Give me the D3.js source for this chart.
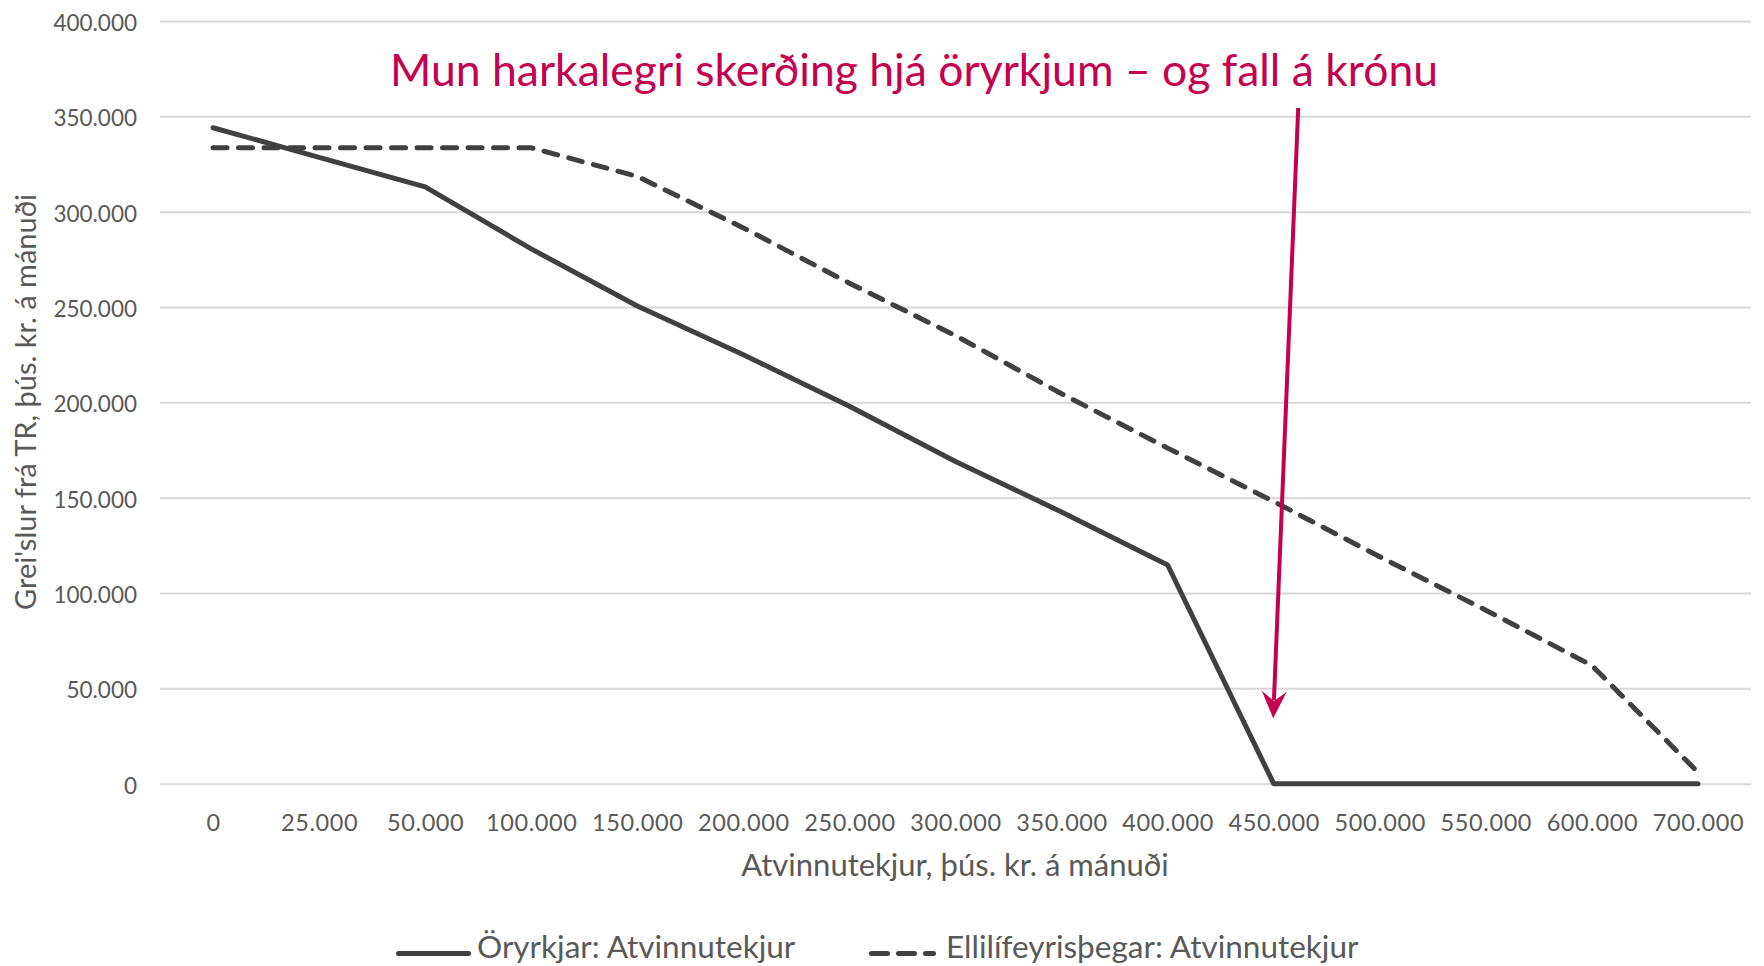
<!DOCTYPE html>
<html>
<head>
<meta charset="utf-8">
<script src="https://cdn.jsdelivr.net/npm/d3@7"></script>
<style>
  body { margin: 0; background: #fff; }
  svg text { font-family: Lato, "Open Sans", sans-serif; fill: #595959; }
</style>
</head>
<body>
<svg id="chart" width="1764" height="966"></svg>
<script>
/*** DATA ***/
var income = [0, 25000, 50000, 100000, 150000, 200000, 250000, 300000, 350000,
              400000, 450000, 500000, 550000, 600000, 700000];
var disabled = [344000, 328500, 313000, 280500, 250500, 225000, 198000, 169000,
                142500, 114700, 0, 0, 0, 0, 0];
var pensioners = [333500, 333500, 333500, 333500, 318500, 291500, 262500, 235000,
                  204500, 176000, 148000, 119000, 91000, 62000, 6000];
var y_ticks = [0, 50000, 100000, 150000, 200000, 250000, 300000, 350000, 400000];
var series_names = ['Öryrkjar: Atvinnutekjur', 'Ellilífeyrisþegar: Atvinnutekjur'];
var title_text = 'Mun harkalegri skerðing hjá öryrkjum – og fall á krónu';
var x_title = 'Atvinnutekjur, þús. kr. á mánuði';
var y_title = "Grei'slur frá TR, þús. kr. á mánuði";
var arrow_at = 450000;   // category the annotation arrow points to

/*** LAYOUT ***/
var svg = d3.select('#chart');
var plot = {left: 160, right: 1751, top: 21, bottom: 783.7};
var accent = '#c4004f',
    line_col = '#404040';

var is = d3.formatLocale({decimal: ',', thousands: '.', grouping: [3], currency: ['', ' kr']});
var fmt = is.format(',d');

var x = d3.scalePoint()
    .domain(income)
    .range([plot.left, plot.right])
    .padding(0.5);

var y = d3.scaleLinear()
    .domain([0, 400000])
    .range([plot.bottom, plot.top]);

// y axis + gridlines
var gy = svg.append('g')
    .attr('transform', `translate(${plot.left},0)`)
    .call(d3.axisLeft(y)
            .tickValues(y_ticks)
            .tickFormat(fmt)
            .tickSize(-(plot.right - plot.left))
            .tickPadding(23));
gy.select('.domain').remove();
gy.selectAll('line').attr('stroke', '#d9d9d9').attr('stroke-width', 2);
gy.selectAll('text')
    .attr('dy', '0.42em')
    .style('font-size', '22.5px')
    .style('fill', '#595959');

// x axis labels
var gx = svg.append('g')
    .attr('transform', `translate(0,${plot.bottom})`)
    .call(d3.axisBottom(x).tickFormat(fmt).tickSize(0));
gx.select('.domain').remove();
gx.selectAll('text')
    .attr('y', 47.5)
    .attr('dy', 0)
    .style('font-size', '23.5px')
    .style('letter-spacing', '0.6px')
    .style('fill', '#595959');

// series lines
var line = d3.line()
    .x(function(d, i) { return x(income[i]); })
    .y(function(d) { return y(d); });

svg.append('path')
    .datum(pensioners)
    .attr('d', line)
    .attr('fill', 'none')
    .attr('stroke', line_col)
    .attr('stroke-width', 5)
    .attr('stroke-linecap', 'round')
    .attr('stroke-linejoin', 'round')
    .attr('stroke-dasharray', '14,11.5');

svg.append('path')
    .datum(disabled)
    .attr('d', line)
    .attr('fill', 'none')
    .attr('stroke', line_col)
    .attr('stroke-width', 5)
    .attr('stroke-linecap', 'round')
    .attr('stroke-linejoin', 'round');

// annotation title + arrow
svg.append('text')
    .attr('x', 390)
    .attr('y', 86)
    .style('font-size', '44.5px')
    .style('fill', accent)
    .text(title_text);

var tip_x = x(arrow_at) - 0.5,
    tip_y = plot.bottom - 65.5,
    start_x = tip_x + 25,
    start_y = 108;
var ang = Math.atan2(tip_y - start_y, tip_x - start_x);
function pt(len, off) {
    return [tip_x - len * Math.cos(ang) - off * Math.sin(ang),
            tip_y - len * Math.sin(ang) + off * Math.cos(ang)];
}
svg.append('line')
    .attr('x1', start_x).attr('y1', start_y)
    .attr('x2', pt(18, 0)[0]).attr('y2', pt(18, 0)[1])
    .attr('stroke', accent)
    .attr('stroke-width', 4);
svg.append('path')
    .attr('d', 'M' + [pt(0, 0), pt(27, 12.5), pt(17, 0), pt(27, -12.5)].join('L') + 'Z')
    .attr('fill', accent);

// axis titles
svg.append('text')
    .attr('x', 955)
    .attr('y', 876)
    .attr('text-anchor', 'middle')
    .style('font-size', '31px')
    .text(x_title);

svg.append('text')
    .attr('transform', 'translate(36,402) rotate(-90)')
    .attr('text-anchor', 'middle')
    .style('font-size', '29px')
    .text(y_title);

// legend
var legend = [
    {name: series_names[0], x0: 396, x1: 471, text_x: 477, dash: null},
    {name: series_names[1], x0: 869, x1: 936, text_x: 946, dash: '16,11'}
];
legend.forEach(function(l) {
    svg.append('line')
        .attr('x1', l.x0 + 2.5).attr('x2', l.x1 - 2.5)
        .attr('y1', 953.5).attr('y2', 953.5)
        .attr('stroke', line_col)
        .attr('stroke-width', 5)
        .attr('stroke-linecap', 'round')
        .attr('stroke-dasharray', l.dash);
    svg.append('text')
        .attr('x', l.text_x)
        .attr('y', 957.5)
        .style('font-size', '31.5px')
        .text(l.name);
});
</script>
</body>
</html>
